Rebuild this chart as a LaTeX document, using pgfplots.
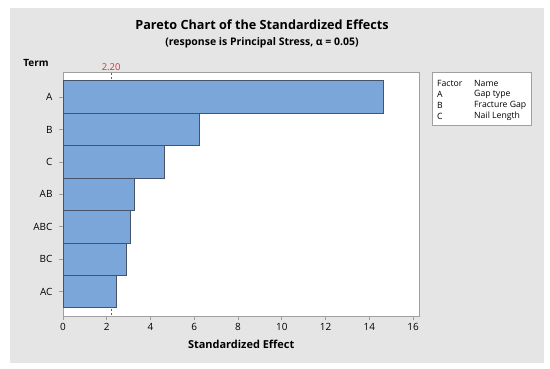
\documentclass[border=0pt]{standalone}
\usepackage{fontspec}
\setmainfont{Open Sans}
\usepackage{pgfplots}
\pgfplotsset{compat=1.18}
\definecolor{panel}{RGB}{229,229,229}
\definecolor{barfill}{RGB}{122,166,217}
\definecolor{baredge}{RGB}{72,82,104}
\definecolor{axgray}{RGB}{160,160,160}
\definecolor{refred}{RGB}{210,50,50}
\begin{document}
\begin{tikzpicture}
\fill[white] (0,0) rectangle (550bp,369bp);
\fill[panel] (10bp,7bp) rectangle (543bp,361bp);
\draw[white!90!black, line width=0.6bp] (10bp,7bp) rectangle (543bp,361bp);
\node[font=\fontsize{12.7}{14}\selectfont\bfseries] at (262bp,344bp) {Pareto Chart of the Standardized Effects};
\node[font=\fontsize{10.5}{12}\selectfont\bfseries] at (262bp,326bp) {(response is Principal Stress, α = 0.05)};
\node[font=\fontsize{10}{11}\selectfont\bfseries] at (36bp,306bp) {Term};
\begin{axis}[
  at={(63bp,53bp)}, anchor=south west,
  scale only axis, width=356.3bp, height=243.3bp,
  xmin=0, xmax=16.28, ymin=-0.75, ymax=6.75,
  y dir=reverse,
  axis background/.style={fill=white},
  axis line style={axgray, line width=0.8bp},
  xtick={0,2,...,16}, ytick={0,1,2,3,4,5,6},
  yticklabels={A,B,C,AB,ABC,BC,AC},
  xtick pos=bottom, ytick pos=left,
  tick align=outside, major tick length=4bp,
  tick style={axgray, line width=0.8bp},
  ticklabel style={font=\fontsize{10}{11}\selectfont},
  yticklabel style={xshift=-3bp},
  /pgf/number format/assume math mode=true,
  xlabel={Standardized Effect},
  xlabel style={font=\fontsize{11}{12}\selectfont\bfseries, yshift=-2bp},
  clip=false,
]
\addplot[refred, dash pattern=on 2.5bp off 1.5bp, line width=1.1bp] coordinates {(2.2,-0.75) (2.2,6.75)};
\addplot[xbar, bar width=1, fill=barfill, draw=baredge, line width=0.8bp] coordinates {
  (14.62,0) (6.21,1) (4.65,2) (3.28,3) (3.10,4) (2.91,5) (2.42,6)};
\node[refred, anchor=south, font=\fontsize{9.5}{10}\selectfont, inner sep=1.5bp] at (axis cs:2.2,-0.75) {2.20};
\end{axis}
\draw[axgray, fill=white, line width=0.8bp] (432bp,243.3bp) rectangle (531bp,296.3bp);
\begin{scope}[every node/.style={anchor=west, inner sep=0pt, font=\fontsize{8.7}{10}\selectfont}]
\node at (437bp,285.7bp) {Factor};
\node at (474bp,285.7bp) {Name};
\node at (437bp,274.7bp) {A};
\node at (474bp,274.7bp) {Gap type};
\node at (437bp,263.7bp) {B};
\node at (474bp,263.7bp) {Fracture Gap};
\node at (437bp,252.3bp) {C};
\node at (474bp,252.3bp) {Nail Length};
\end{scope}
\end{tikzpicture}
\end{document}
